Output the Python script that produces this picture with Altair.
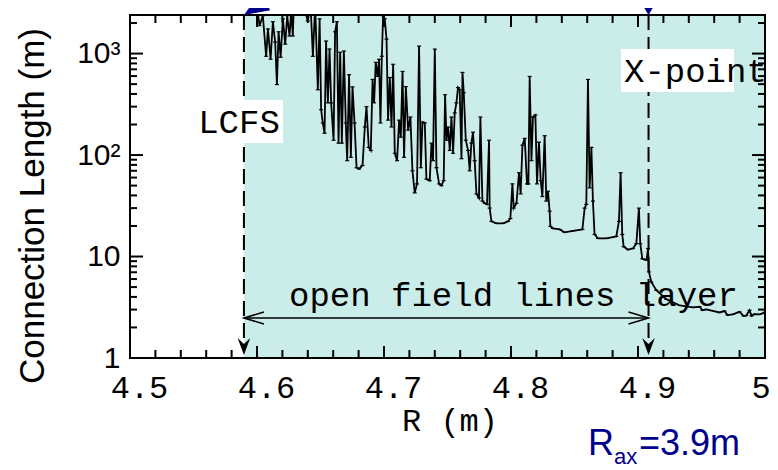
import altair as alt
import pandas as pd

# ---- data ----
R = [4.5897, 4.5999, 4.6020, 4.6046, 4.6072, 4.6086, 4.6107, 4.6125, 4.6143, 4.6157,
     4.6170, 4.6186, 4.6204, 4.6222, 4.6238, 4.6256, 4.6269, 4.6282, 4.6290, 4.6338,
     4.6400, 4.6422, 4.6440, 4.6458, 4.6479, 4.6493, 4.6505, 4.6518, 4.6532, 4.6544,
     4.6558, 4.6571, 4.6584, 4.6603, 4.6615, 4.6629, 4.6642, 4.6655, 4.6668, 4.6684,
     4.6699, 4.6710, 4.6725, 4.6739, 4.6752, 4.6768, 4.6784, 4.6804, 4.6831, 4.6849,
     4.6862, 4.6880, 4.6896, 4.6910, 4.6922, 4.6935, 4.6949, 4.6961, 4.6972, 4.6983,
     4.6993, 4.7006, 4.7020, 4.7032, 4.7046, 4.7059, 4.7072, 4.7085, 4.7103, 4.7119,
     4.7132, 4.7146, 4.7158, 4.7172, 4.7190, 4.7208, 4.7224, 4.7242, 4.7260, 4.7276,
     4.7290, 4.7303, 4.7321, 4.7334, 4.7360, 4.7374, 4.7386, 4.7400, 4.7413, 4.7434,
     4.7452, 4.7470, 4.7481, 4.7492, 4.7504, 4.7518, 4.7531, 4.7544, 4.7557, 4.7570,
     4.7583, 4.7596, 4.7610, 4.7618, 4.7628, 4.7644, 4.7662, 4.7675, 4.7688, 4.7701,
     4.7714, 4.7728, 4.7748, 4.7759, 4.7775, 4.7793, 4.7811, 4.7827, 4.7832, 4.7846,
     4.7885, 4.7937, 4.7976, 4.7995, 4.8011, 4.8021, 4.8043, 4.8063, 4.8076, 4.8090,
     4.8108, 4.8126, 4.8137, 4.8147, 4.8161, 4.8173, 4.8192, 4.8205, 4.8220, 4.8234,
     4.8247, 4.8265, 4.8278, 4.8291, 4.8304, 4.8310, 4.8330, 4.8383, 4.8422, 4.8488,
     4.8562, 4.8580, 4.8593, 4.8606, 4.8619, 4.8633, 4.8645, 4.8658, 4.8685, 4.8751,
     4.8829, 4.8850, 4.8863, 4.8876, 4.8887, 4.8921, 4.8960, 4.8987, 4.9007, 4.9018,
     4.9034, 4.9060, 4.9068, 4.9079, 4.9086, 4.9105, 4.9144, 4.9223, 4.9327, 4.9432,
     4.9485, 4.9508, 4.9537, 4.9642, 4.9681, 4.9705, 4.9747, 4.9799, 4.9831, 4.9852,
     4.9878, 4.9894, 4.9917, 4.9957, 5.0000]
L = [5000, 3000, 1880, 2360, 940, 1750, 880, 2060, 1300, 495,
     1640, 920, 2200, 1240, 2360, 1490, 2600, 1490, 3000, 4000,
     2100, 3000, 940, 3000, 440, 2200, 280, 207, 164, 1330,
     327, 1110, 327, 140, 1640, 2060, 131, 1030, 131, 1060,
     207, 88, 620, 95, 470, 207, 75, 73, 79, 189,
     300, 119, 111, 556, 327, 820, 595, 879, 207, 942,
     2360, 2200, 1390, 221, 581, 189, 784, 104, 88, 221,
     150, 667, 95, 473, 176, 237, 70, 42.4, 52, 1185,
     75, 211, 207, 58, 56, 131, 88, 1107, 75, 52,
     50, 56, 393, 140, 189, 111, 237, 104, 260, 327,
     462, 441, 92, 652, 412, 140, 111, 70, 131, 168,
     88, 41.4, 37.8, 237, 35.2, 33.5, 32.7, 140, 30.0, 22.2,
     21.2, 21.2, 22.2, 23.7, 52, 30, 33.5, 67, 41.4, 125,
     146, 52, 52, 595, 88, 237, 248, 52, 134, 56,
     39, 155, 35.2, 44, 28, 19.8, 18.9, 18.5, 17.3, 17.9,
     18.5, 30, 32.7, 556, 47.5, 119, 35.2, 16.5, 15.1, 15.1,
     15.8, 22.2, 67, 16.5, 12.5, 11.7, 12.0, 13.4, 30, 13.4,
     9.5, 9.3, 9.3, 12.0, 7.05, 5.6, 4.66, 3.79, 3.30, 3.15,
     3.2, 2.95, 3.01, 2.81, 2.9, 2.65, 2.69, 2.85, 2.6, 2.62,
     2.95, 2.6, 2.7, 2.69, 2.81]

R_LCFS = 4.5897
R_XPT = 4.9083
R_MAX = 5.0
ARROW_L = 2.48

x_major = [4.5, 4.6, 4.7, 4.8, 4.9, 5.0]
x_minor = [4.52, 4.54, 4.56, 4.58, 4.62, 4.64, 4.66, 4.68, 4.72, 4.74, 4.76, 4.78,
           4.82, 4.84, 4.86, 4.88, 4.92, 4.94, 4.96, 4.98]
x_label_vals = [4.5, 4.6, 4.7, 4.8, 4.9]
x_label_txt = ["4.5", "4.6", "4.7", "4.8", "4.9"]
x_last_val = [5.0]
x_last_txt = ["5"]
y_major = [1, 10, 100, 1000]
y_minor = [2, 3, 4, 5, 6, 7, 8, 9, 20, 30, 40, 50, 60, 70, 80, 90,
           200, 300, 400, 500, 600, 700, 800, 900, 2000]

W, H = 635, 343
NAVY = "#00008C"
TEAL = "#CBEDEA"
MONO = "Liberation Mono"
SANS = "Liberation Sans"

xs = alt.Scale(domain=[4.5, 5.0], nice=False, zero=False)
ys = alt.Scale(type="log", domain=[1, 2400], nice=False)
yaxis = alt.Axis(values=y_major, ticks=False, domain=False, grid=False, title=None,
                 labelExpr="datum.value >= 1000 ? '10\u00b3' : (datum.value >= 100 ? '10\u00b2' : datum.label)",
                 labelFont=SANS, labelFontSize=30, labelColor="black",
                 labelPadding=10)


def X(f="R"):
    return alt.X(f"{f}:Q", scale=xs, axis=None)


def Y(f="L"):
    return alt.Y(f"{f}:Q", scale=ys, axis=yaxis)


line_df = pd.DataFrame({"R": R, "L": L})
bg_df = pd.DataFrame({"R": [R_LCFS], "R2": [R_MAX]})
vlines_df = pd.DataFrame({"R": [R_LCFS, R_XPT]})
harrow_df = pd.DataFrame({"R": [R_LCFS], "R2": [R_XPT], "L": [ARROW_L]})

bg = alt.Chart(bg_df).mark_rect(color=TEAL).encode(
    x=X(), x2="R2:Q", y=alt.value(0), y2=alt.value(H))

line = alt.Chart(line_df).mark_line(color="black", strokeWidth=1.8, clip=True).encode(
    x=X(), y=Y())
serifs = alt.Chart(line_df).mark_tick(orient="horizontal", size=4, thickness=1.2,
                                       color="black", clip=True, opacity=1).encode(x=X(), y=Y())

# white boxes for labels
lcfs_box = alt.Chart(bg_df).mark_rect(color="white").encode(
    x=alt.value(65), x2=alt.value(153), y=alt.value(85), y2=alt.value(128))
xpt_box = alt.Chart(bg_df).mark_rect(color="white").encode(
    x=alt.value(491), x2=alt.value(604), y=alt.value(34), y2=alt.value(77))

vlines = alt.Chart(vlines_df).mark_rule(color="black", strokeWidth=2, strokeDash=[15, 7]).encode(
    x=X(), y=alt.value(0), y2=alt.value(330))
down_heads = alt.Chart(vlines_df).mark_point(
    shape="M0,0L-0.63,-1.7L0,-1.1L0.63,-1.7Z", filled=True, size=400, color="black",
    opacity=1, strokeWidth=0).encode(x=X(), y=alt.value(340))

harrow = alt.Chart(harrow_df).mark_rule(color="black", strokeWidth=1.5).encode(
    x=X(), x2="R2:Q", y=Y())
lhead = alt.Chart(harrow_df).mark_point(
    shape="M2,-0.6L0,0L2,0.6", filled=False, size=400, color="black", opacity=1,
    strokeWidth=1.5).encode(x=X(), y=Y())
rhead = alt.Chart(harrow_df).mark_point(
    shape="M-2,-0.6L0,0L-2,0.6", filled=False, size=400, color="black", opacity=1,
    strokeWidth=1.5).encode(x=alt.X("R2:Q", scale=xs, axis=None), y=Y())

tri_x = alt.Chart(pd.DataFrame({"R": [R_XPT]})).mark_point(
    shape="M0,0L-0.9,-1.5L0.9,-1.5Z", filled=True, size=1100, color=NAVY, opacity=1,
    strokeWidth=0).encode(x=X(), y=alt.value(0))
tri_l = alt.Chart(pd.DataFrame({"R": [R_LCFS]})).mark_point(
    shape="M0,0L-0.6,-1.5L0.6,-1.5Z", filled=True, size=1100, color=NAVY, opacity=1,
    strokeWidth=0, angle=58).encode(x=X(), y=alt.value(0))

# ticks (inward)
def xticks(vals, ln):
    df = pd.DataFrame({"R": vals})
    b = alt.Chart(df).mark_tick(orient="vertical", size=ln, thickness=2, color="black",
                                opacity=1).encode(x=X(), y=alt.value(H - ln / 2))
    t = alt.Chart(df).mark_tick(orient="vertical", size=ln, thickness=2, color="black",
                                opacity=1).encode(x=X(), y=alt.value(ln / 2))
    return [b, t]


def yticks(vals, ln):
    df = pd.DataFrame({"L": vals})
    l_ = alt.Chart(df).mark_tick(orient="horizontal", size=ln, thickness=2, color="black",
                                 opacity=1).encode(y=Y(), x=alt.value(ln / 2))
    r_ = alt.Chart(df).mark_tick(orient="horizontal", size=ln, thickness=2, color="black",
                                 opacity=1).encode(y=Y(), x=alt.value(W - ln / 2))
    return [l_, r_]


frame = alt.Chart(bg_df).mark_rect(fill=None, stroke="black", strokeWidth=2).encode(
    x=alt.value(0), x2=alt.value(W), y=alt.value(0), y2=alt.value(H))

# texts
def txt(s, x, y, size=34, font=MONO, align="left", color="black", angle=0):
    return alt.Chart(pd.DataFrame({"t": [s]})).mark_text(
        font=font, fontSize=size, align=align, baseline="alphabetic", color=color,
        angle=angle).encode(x=alt.value(x), y=alt.value(y), text="t:N")


lcfs_t = txt("LCFS", 109, 118, align="center")
xpt_t = txt("X-point", 494, 67)
open_t = txt("open field lines layer", 159, 291)
xtitle = txt("R (m)", 320, 416, size=32, align="center")
ytitle = alt.Chart(pd.DataFrame({"t": ["Connection Length (m)"]})).mark_text(
    font=SANS, fontSize=35, align="center", baseline="middle", angle=270,
    color="black").encode(x=alt.value(-97), y=alt.value(191), text="t:N")
rax1 = txt("R", 458, 440, size=36, font=SANS, color=NAVY)
rax2 = txt("ax", 484, 449, size=22, font=SANS, color=NAVY)
rax3 = txt("=3.9m", 509, 440, size=36, font=SANS, color=NAVY)

xlab = alt.Chart(pd.DataFrame({"R": x_label_vals, "t": x_label_txt})).mark_text(
    font=MONO, fontSize=32, align="center", baseline="alphabetic", dx=9.5,
    color="black").encode(x=X(), y=alt.value(383), text="t:N")
xlab5 = alt.Chart(pd.DataFrame({"R": x_last_val, "t": x_last_txt})).mark_text(
    font=MONO, fontSize=32, align="center", baseline="alphabetic", dx=-4,
    color="black").encode(x=X(), y=alt.value(383), text="t:N")

layers = [bg, line, serifs, vlines, down_heads, harrow, lhead, rhead,
          lcfs_box, xpt_box, lcfs_t, xpt_t, open_t]
layers += xticks(x_major, 12) + xticks(x_minor, 8) + yticks(y_major, 13) + yticks(y_minor, 7)
layers += [frame, tri_x, tri_l, xlab, xlab5, xtitle, ytitle, rax1, rax2, rax3]

chart = alt.layer(*layers).properties(
    width=W, height=H,
    autosize=alt.AutoSizeParams(type="none"),
    padding={"left": 122, "top": 7, "right": 5, "bottom": 112},
    background="white",
).configure_view(stroke=None)

chart.save("out.html", embed_options={"renderer": "svg", "actions": False})
